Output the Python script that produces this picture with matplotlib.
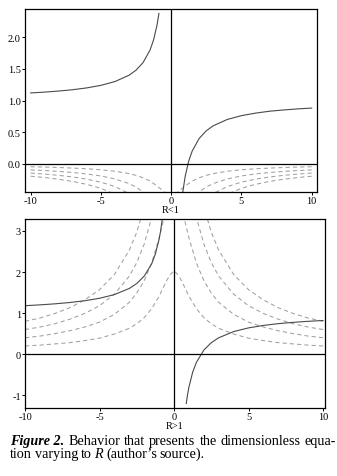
import numpy as np
import matplotlib
matplotlib.use("Agg")
import matplotlib.pyplot as plt

plt.rcParams["font.family"] = ["Liberation Serif", "DejaVu Serif"]
plt.rcParams["axes.unicode_minus"] = False

# ---- data ----
# half grid (x <= 0); right side of the dashed curves is the mirror image
x_half = [-10, -9, -8, -7, -6, -5, -4, -3, -2.5, -2, -1.5, -1, -0.75, -0.5, -0.25, 0]

# top panel (R<1): dashed curves below zero
top_dash_1 = [-0.05, -0.055, -0.062, -0.071, -0.082, -0.098, -0.121, -0.158, -0.186,
              -0.224, -0.277, -0.354, -0.40, -0.447, -0.485, -0.50]
top_dash_2 = [-0.10, -0.11, -0.124, -0.141, -0.164, -0.196, -0.243, -0.316, -0.371,
              -0.447, -0.555]
top_dash_3 = [-0.15, -0.166, -0.186, -0.212, -0.247, -0.294, -0.364, -0.474]
top_dash_4 = [-0.20, -0.221, -0.248, -0.283, -0.329, -0.392, -0.485]

# top panel solid curve, two branches
top_left_x = [-10, -9, -8, -7, -6, -5, -4, -3, -2.5, -2, -1.5, -1.25, -1, -0.87]
top_left_y = [1.12, 1.133, 1.15, 1.171, 1.2, 1.24, 1.3, 1.4, 1.48, 1.6, 1.8, 1.96, 2.2, 2.38]
top_right_x = [0.83, 1, 1.25, 1.5, 2, 2.5, 3, 4, 5, 6, 7, 8, 9, 10]
top_right_y = [-0.45, -0.2, 0.04, 0.2, 0.4, 0.52, 0.6, 0.7, 0.76, 0.8, 0.83, 0.85, 0.867, 0.88]

# bottom panel (R>1): dashed curves above zero
bot_dash_1 = [0.20, 0.22, 0.25, 0.28, 0.33, 0.39, 0.49, 0.63, 0.74, 0.89, 1.11, 1.41,
              1.60, 1.79, 1.94, 2.03]
bot_dash_2 = [0.40, 0.44, 0.50, 0.57, 0.66, 0.78, 0.97, 1.26, 1.49, 1.79, 2.22, 2.83,
              3.2, 3.58]
bot_dash_3 = [0.60, 0.66, 0.74, 0.85, 0.99, 1.18, 1.46, 1.90, 2.23, 2.68, 3.33, 4.24]
bot_dash_4 = [0.80, 0.88, 0.99, 1.13, 1.32, 1.57, 1.94, 2.53, 2.97, 3.58]

# bottom panel solid curve
bot_left_x = [-10, -9, -8, -7, -6, -5, -4, -3, -2.5, -2, -1.5, -1.25, -1, -0.9, -0.78]
bot_left_y = [1.18, 1.2, 1.225, 1.257, 1.3, 1.36, 1.45, 1.6, 1.72, 1.9, 2.2, 2.44, 2.8, 3.0, 3.31]
bot_right_x = [0.82, 0.9, 1, 1.25, 1.5, 2, 2.5, 3, 4, 5, 6, 7, 8, 9, 10]
bot_right_y = [-1.2, -1.0, -0.8, -0.44, -0.2, 0.1, 0.28, 0.4, 0.55, 0.64, 0.7, 0.743,
               0.775, 0.8, 0.82]

x_ticks = [-10, -5, 0, 5, 10]
top_yticks = [0.0, 0.5, 1.0, 1.5, 2.0]
bot_yticks = [-1, 0, 1, 2, 3]

SOLID = "#4a4a4a"
DASH = "#a0a0a0"


def draw_dashed(ax, values):
    """Draws one dashed curve on both sides of x = 0 (mirror image)."""
    xs = np.array(x_half[:len(values)])
    ys = np.array(values)
    ax.plot(xs, ys, color=DASH, lw=0.75, ls=(0, (4, 3)))
    ax.plot(-xs, ys, color=DASH, lw=0.75, ls=(0, (4, 3)))


def style_axes(ax):
    for s in ax.spines.values():
        s.set_linewidth(0.9)
        s.set_color("black")
    ax.axhline(0, color="black", lw=0.9)
    ax.axvline(0, color="black", lw=0.9)
    ax.tick_params(direction="out", length=2, width=0.7, pad=1, labelsize=7.5)


fig = plt.figure(figsize=(3.37, 4.77), dpi=100)

# ---- top panel ----
ax1 = fig.add_axes([25 / 337, 1 - 193 / 477, 292 / 337, 183 / 477])
for vals in [top_dash_1, top_dash_2, top_dash_3, top_dash_4]:
    draw_dashed(ax1, vals)
ax1.plot(top_left_x, top_left_y, color=SOLID, lw=0.8)
ax1.plot(top_right_x, top_right_y, color=SOLID, lw=0.8)
ax1.set_xlim(-10.4, 10.38)
ax1.set_ylim(-0.45, 2.45)
ax1.set_xticks(x_ticks)
ax1.set_xticklabels([str(t) for t in x_ticks])
ax1.set_yticks(top_yticks)
ax1.set_yticklabels(["%.1f" % t for t in top_yticks])
ax1.set_xlabel("R<1", fontsize=7.5, labelpad=0)
style_axes(ax1)

# ---- bottom panel ----
ax2 = fig.add_axes([25 / 337, 1 - 409 / 477, 300 / 337, 189 / 477])
for vals in [bot_dash_1, bot_dash_2, bot_dash_3, bot_dash_4]:
    draw_dashed(ax2, vals)
ax2.plot(bot_left_x, bot_left_y, color=SOLID, lw=0.8)
ax2.plot(bot_right_x, bot_right_y, color=SOLID, lw=0.8)
ax2.set_xlim(-10, 10.13)
ax2.set_ylim(-1.31, 3.29)
ax2.set_xticks(x_ticks)
ax2.set_xticklabels([str(t) for t in x_ticks])
ax2.set_yticks(bot_yticks)
ax2.set_yticklabels([str(t) for t in bot_yticks])
ax2.set_xlabel("R>1", fontsize=7.5, labelpad=0)
style_axes(ax2)

# ---- caption, built from pieces ----
CAP_SIZE = 10.2
W, H = fig.get_size_inches() * fig.dpi
fig.canvas.draw()
renderer = fig.canvas.get_renderer()


def text_width(s, **kw):
    t = fig.text(0, 0, s, fontsize=CAP_SIZE, **kw)
    w = t.get_window_extent(renderer).width
    t.remove()
    return w


space = text_width("a a") - text_width("aa")


def put_line(words, x0, y_px, target=None, gap_scale=1.0):
    """words: list of (text, kwargs); a space goes between each pair.
    If target is given, the spaces are stretched so the line ends there."""
    widths = [text_width(s, **kw) for s, kw in words]
    gap = space * gap_scale
    if target is not None:
        gap = (target - x0 - sum(widths)) / (len(words) - 1)
    x = x0
    for (s, kw), w in zip(words, widths):
        fig.text(x / W, 1 - y_px / H, s, fontsize=CAP_SIZE, va="baseline", **kw)
        x += w + gap


line1 = [("Figure 2.", dict(style="italic", weight="bold"))] + \
    [(w, {}) for w in "Behavior that presents the dimensionless equa-".split()]
line2 = [("tion", {}), ("varying", {}), ("to", {}), ("R", dict(style="italic")),
         ("(author\u2019s", {}), ("source).", {})]
put_line(line1, 10, 445, target=336)
put_line(line2, 10, 458, gap_scale=0.8)

fig.savefig("out.png", dpi=100)
